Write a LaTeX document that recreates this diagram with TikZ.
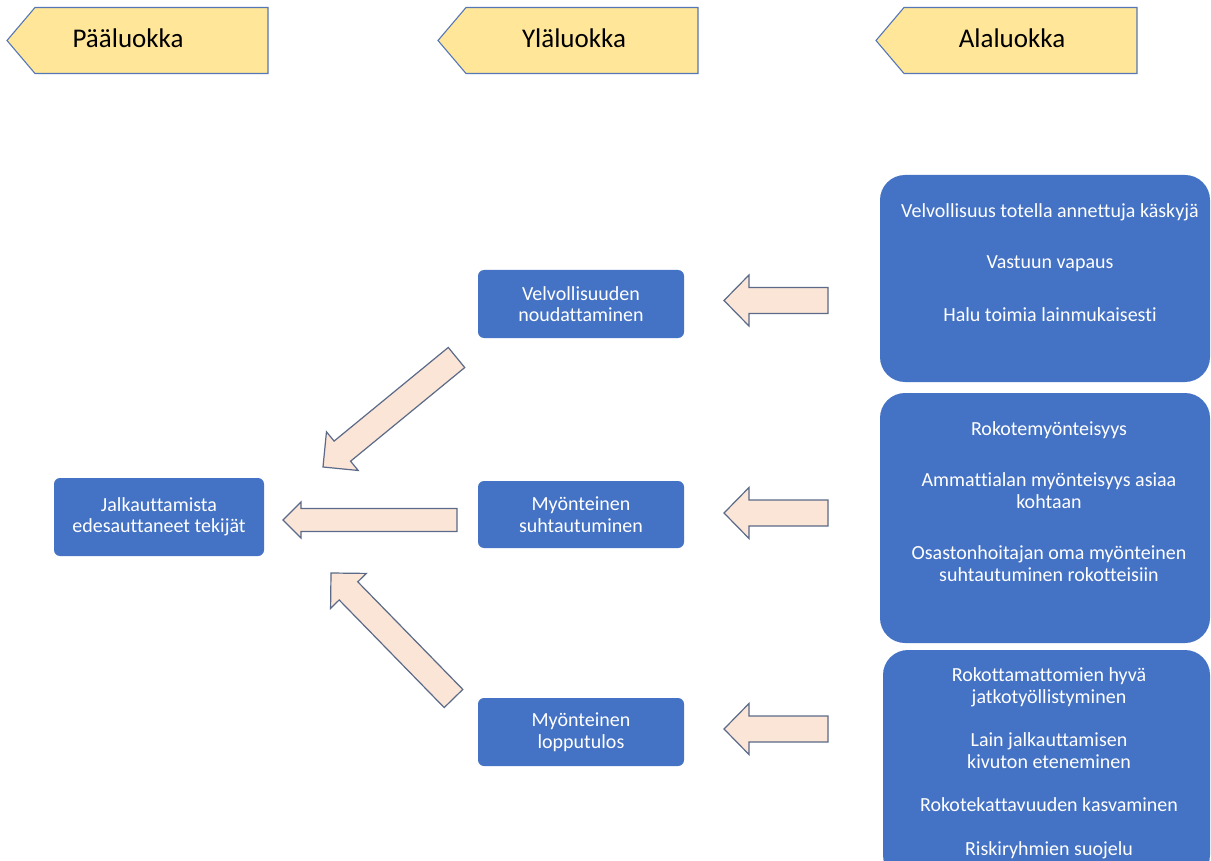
\documentclass[tikz,border=0pt]{standalone}
\usepackage{fontspec}
\setmainfont[Ligatures=NoCommon]{Carlito}
\usetikzlibrary{calc}
\definecolor{boxblue}{HTML}{4472C4}
\definecolor{tagfill}{HTML}{FFE699}
\definecolor{tagline}{HTML}{5577B4}
\definecolor{arrfill}{HTML}{FBE5D6}
\definecolor{arrline}{HTML}{5A6A88}
\newcommand\blockarr[4]{% name, body half width, head half width, head length
  \coordinate (#1-h) at ($(#1-p)!#4pt!(#1-t)$);
  \draw[arrowbody] ($(#1-t)!#2pt!90:(#1-p)$) -- ($(#1-h)!#2pt!90:(#1-p)$)
    -- ($(#1-h)!#3pt!90:(#1-p)$) -- (#1-p) -- ($(#1-h)!#3pt!-90:(#1-p)$)
    -- ($(#1-h)!#2pt!-90:(#1-p)$) -- ($(#1-t)!#2pt!-90:(#1-p)$) -- cycle;
}
\begin{document}
\begin{tikzpicture}[x=1pt,y=-1pt,
  tagshape/.style={fill=tagfill,draw=tagline,line width=1.1pt,line join=miter},
  tagtext/.style={font=\fontsize{27}{30}\selectfont,text=black,anchor=base,inner sep=0pt},
  smallbox/.style={fill=boxblue,draw=none,rounded corners=6pt,minimum width=206pt,
    minimum height=68pt,text=white,align=center,inner sep=0pt,
    font=\fontsize{20}{21.5}\selectfont},
  bigbox/.style={fill=boxblue,draw=none,rounded corners=25pt,inner sep=0pt},
  itemtext/.style={text=white,anchor=base,inner sep=0pt,font=\fontsize{20}{21.5}\selectfont},
  arrowbody/.style={fill=arrfill,draw=arrline,line width=1.2pt,line join=miter}]
\useasboundingbox (0,0) rectangle (1211,861);
\fill[white] (0,0) rectangle (1211,861);

% header tags
\draw[tagshape] (7,40.5) -- (35,7.5) -- (268,7.5) -- (268,73.5) -- (35,73.5) -- cycle;
\node[tagtext] (tag1) at (128,48) {Pääluokka};
\draw[tagshape] (438,40.5) -- (466,7.5) -- (698,7.5) -- (698,73.5) -- (466,73.5) -- cycle;
\node[tagtext] (tag2) at (574,48) {Yläluokka};
\draw[tagshape] (876,40.5) -- (904,7.5) -- (1137,7.5) -- (1137,73.5) -- (904,73.5) -- cycle;
\node[tagtext] (tag3) at (1012,48) {Alaluokka};

% main boxes
\node[smallbox,minimum width=210pt,minimum height=78pt] (main) at (159,517) {Jalkauttamista\\edesauttaneet tekijät};
\node[smallbox] (velv) at (581,304) {Velvollisuuden\\noudattaminen};
\node[smallbox,minimum height=67pt] (myon) at (581,514.5) {Myönteinen\\suhtautuminen};
\node[smallbox] (lopp) at (581,732) {Myönteinen\\lopputulos};

% right boxes
\node[bigbox,minimum width=330pt,minimum height=207pt] (r1) at (1045,278.5) {};
\node[bigbox,minimum width=330pt,minimum height=250pt] (r2) at (1045,518) {};
\node[bigbox,minimum width=327pt,minimum height=230pt] (r3) at (1046.5,765) {};

\node[itemtext] (r1a) at (1050,218) {Velvollisuus totella annettuja käskyjä};
\node[itemtext] (r1b) at (1050,269) {Vastuun vapaus};
\node[itemtext] (r1c) at (1050,321) {Halu toimia lainmukaisesti};

\node[itemtext] (r2a) at (1049,435) {Rokotemyönteisyys};
\node[itemtext] (r2b) at (1049,486) {Ammattialan myönteisyys asiaa};
\node[itemtext] (r2c) at (1049,508) {kohtaan};
\node[itemtext] (r2d) at (1049,559) {Osastonhoitajan oma myönteinen};
\node[itemtext] (r2e) at (1049,581) {suhtautuminen rokotteisiin};

\node[itemtext] (r3a) at (1049,681.5) {Rokottamattomien hyvä};
\node[itemtext] (r3b) at (1049,703) {jatkotyöllistyminen};
\node[itemtext] (r3c) at (1049,746) {Lain jalkauttamisen};
\node[itemtext] (r3d) at (1049,768) {kivuton eteneminen};
\node[itemtext] (r3e) at (1049,811.5) {Rokotekattavuuden kasvaminen};
\node[itemtext] (r3f) at (1049,855) {Riskiryhmien suojelu};

% block arrows
\coordinate (a1-t) at (828,300.5); \coordinate (a1-p) at (724,300.5);
\blockarr{a1}{13}{25.5}{25}
\coordinate (a2-t) at (828,513); \coordinate (a2-p) at (724,513);
\blockarr{a2}{13}{25.5}{25}
\coordinate (a3-t) at (828,729); \coordinate (a3-p) at (724,729);
\blockarr{a3}{13}{25.5}{25}
\coordinate (a4-t) at (457,520); \coordinate (a4-p) at (283,520);
\blockarr{a4}{11.5}{18}{18}
\coordinate (a5-t) at (456.5,357.5); \coordinate (a5-p) at (323,467);
\blockarr{a5}{13}{25}{25}
\coordinate (a6-t) at (453.5,698.5); \coordinate (a6-p) at (331,573);
\blockarr{a6}{13}{25}{25}
\end{tikzpicture}
\end{document}
